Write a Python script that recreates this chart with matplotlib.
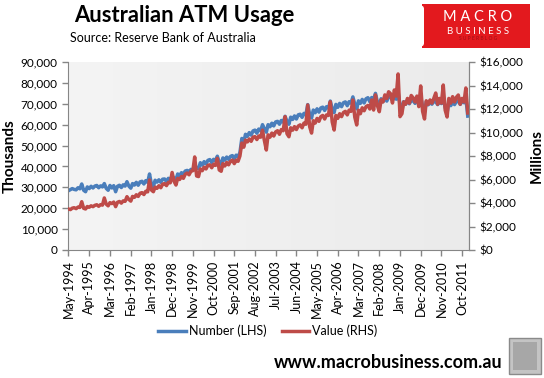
import numpy as np
import pandas as pd
import matplotlib
matplotlib.use('Agg')
import matplotlib.pyplot as plt
from matplotlib.patches import Rectangle, FancyBboxPatch
from matplotlib.colors import LinearSegmentedColormap
from matplotlib.ticker import FuncFormatter, MultipleLocator

plt.rcParams['font.family'] = ['Lato', 'DejaVu Sans']

############ Data (monthly, May-1994 .. Jan-2012) ############
# ATM withdrawals, number (thousands), in '000s of thousands
num_1994 = [28.4, 28.9, 29.4, 29.0, 28.8, 29.8, 29.3, 31.6]
num_1995 = [28.6, 27.9, 30.2, 29.4, 30.5, 29.7, 30.6, 30.9, 29.8, 30.7, 30.2, 31.8]
num_1996 = [29.5, 28.6, 30.9, 29.7, 30.8, 27.9, 30.5, 31.0, 29.9, 31.2, 30.6, 32.7]
num_1997 = [30.6, 29.6, 31.8, 31.1, 32.4, 31.0, 32.6, 32.9, 31.6, 33.2, 32.4, 36.4]
num_1998 = [31.4, 30.3, 33.4, 32.5, 33.6, 32.4, 33.9, 34.0, 32.8, 34.3, 33.8, 35.4]
num_1999 = [34.4, 33.6, 36.4, 35.6, 37.0, 36.2, 37.8, 38.1, 37.2, 38.6, 38.2, 40.6]
num_2000 = [39.4, 38.9, 41.8, 40.6, 42.3, 41.2, 42.9, 43.3, 41.9, 43.4, 42.8, 44.9]
num_2001 = [42.0, 41.0, 44.1, 43.0, 44.5, 43.4, 44.8, 45.2, 43.6, 45.4, 44.7, 46.6]
num_2002 = [53.4, 51.6, 55.4, 54.4, 56.2, 55.0, 57.0, 57.4, 55.9, 57.9, 57.0, 60.0]
num_2003 = [58.0, 56.4, 60.0, 59.0, 60.7, 59.4, 61.3, 61.6, 60.2, 62.0, 61.2, 64.0]
num_2004 = [61.6, 60.2, 63.6, 62.5, 64.2, 62.7, 64.7, 65.0, 63.5, 65.4, 64.7, 69.6]
num_2005 = [65.0, 63.2, 67.0, 65.7, 67.6, 66.0, 68.0, 68.4, 66.8, 68.6, 67.9, 71.3]
num_2006 = [67.6, 65.8, 69.7, 68.3, 70.2, 68.6, 70.5, 70.9, 69.1, 71.0, 70.3, 73.3]
num_2007 = [69.8, 67.6, 71.4, 70.2, 72.1, 70.4, 72.4, 72.9, 71.0, 73.0, 72.2, 75.0]
num_2008 = [70.8, 69.0, 72.4, 71.0, 73.0, 71.3, 73.4, 73.4, 71.6, 73.4, 72.2, 75.6]
num_2009 = [69.4, 66.8, 71.0, 69.8, 71.4, 70.0, 71.6, 71.5, 70.2, 71.6, 70.4, 73.5]
num_2010 = [68.6, 66.0, 70.9, 69.5, 70.6, 69.8, 71.2, 71.0, 69.6, 71.0, 70.1, 73.0]
num_2011 = [68.2, 65.8, 70.7, 69.1, 70.9, 69.6, 71.1, 71.3, 69.7, 71.2, 70.5, 72.8]
num_2012 = [64.1]

# ATM withdrawals, value ($ millions)
val_1994 = [3490, 3440, 3560, 3600, 3520, 3650, 3620, 4110]
val_1995 = [3550, 3490, 3700, 3640, 3760, 3690, 3800, 3850, 3720, 3860, 3820, 4430]
val_1996 = [3900, 3760, 4030, 3950, 4080, 3690, 4060, 4130, 3990, 4180, 4140, 4540]
val_1997 = [4300, 4160, 4560, 4480, 4700, 4560, 4830, 4880, 4720, 5000, 4950, 5960]
val_1998 = [5100, 4960, 5350, 5250, 5470, 5300, 5600, 5650, 5480, 5760, 5720, 6600]
val_1999 = [5850, 5530, 6100, 6000, 6250, 6100, 6450, 6550, 6400, 6700, 6750, 7920]
val_2000 = [6300, 6250, 6900, 6750, 7050, 6900, 7200, 7250, 7000, 7300, 7200, 7800]
val_2001 = [6810, 6700, 7350, 7150, 7450, 7250, 7550, 7650, 7350, 7650, 7550, 8000]
val_2002 = [9100, 8750, 9350, 9200, 9450, 9250, 9600, 9650, 9400, 9700, 9600, 10200]
val_2003 = [9300, 8510, 9800, 9600, 9950, 9700, 10050, 10150, 9850, 10250, 10150, 11350]
val_2004 = [9900, 9640, 10400, 10200, 10500, 10250, 10550, 10650, 10400, 10800, 10700, 12340]
val_2005 = [10500, 9950, 11000, 10800, 11200, 10950, 11350, 11450, 11150, 11500, 11450, 12620]
val_2006 = [10900, 10210, 11450, 11200, 11600, 11350, 11700, 11800, 11500, 11900, 11800, 12770]
val_2007 = [11300, 10640, 11900, 11600, 12100, 11850, 12200, 12300, 12000, 12770, 11910, 13200]
val_2008 = [12300, 11770, 12770, 12600, 13200, 12900, 13470, 13300, 12510, 13620, 13100, 14980]
val_2009 = [11350, 11600, 12600, 12400, 12900, 12500, 13150, 12950, 12600, 13100, 12200, 13960]
val_2010 = [11800, 11150, 12700, 12400, 12770, 12500, 12900, 13360, 12400, 12900, 12500, 14040]
val_2011 = [11900, 11320, 12900, 12500, 13050, 12600, 13000, 13190, 12400, 12900, 12600, 13790]
val_2012 = [11660]

number = np.array(num_1994 + num_1995 + num_1996 + num_1997 + num_1998 + num_1999 +
                  num_2000 + num_2001 + num_2002 + num_2003 + num_2004 + num_2005 +
                  num_2006 + num_2007 + num_2008 + num_2009 + num_2010 + num_2011 +
                  num_2012) * 1000
value = np.array(val_1994 + val_1995 + val_1996 + val_1997 + val_1998 + val_1999 +
                 val_2000 + val_2001 + val_2002 + val_2003 + val_2004 + val_2005 +
                 val_2006 + val_2007 + val_2008 + val_2009 + val_2010 + val_2011 +
                 val_2012)
months = pd.date_range('1994-05-01', periods=len(number), freq='MS')

tick_dates = months[::11]
tick_labels = [d.strftime('%b-%Y') for d in tick_dates]

BLUE = '#4a7ebb'
RED = '#be4b48'

############ Figure ############
fig = plt.figure(figsize=(5.44, 3.78), dpi=100)
W, H = 544, 378
ax = fig.add_axes([68 / W, 1 - 250 / H, 401 / W, 188 / H])

# light grey plot area, a touch lighter on the left like the excel fill
bg = LinearSegmentedColormap.from_list('bg', ['#f4f4f4', '#ebebeb'])
ax.imshow(np.linspace(0, 1, 256).reshape(1, -1), cmap=bg, aspect='auto',
          extent=[0, 1, 0, 1], transform=ax.transAxes, zorder=0)

ax.plot(months, number, color=BLUE, lw=2.5, solid_joinstyle='round', label='Number (LHS)')
ax2 = ax.twinx()
ax2.plot(months, value, color=RED, lw=2.5, solid_joinstyle='round', label='Value (RHS)')

ax.set_xlim(months[0] - pd.Timedelta(days=8), months[-1] + pd.Timedelta(days=20))
ax.set_ylim(0, 90000)
ax2.set_ylim(0, 16000)
ax.yaxis.set_major_locator(MultipleLocator(10000))
ax2.yaxis.set_major_locator(MultipleLocator(2000))
ax.yaxis.set_major_formatter(FuncFormatter(lambda v, p: '{:,.0f}'.format(v)))
ax2.yaxis.set_major_formatter(FuncFormatter(lambda v, p: '${:,.0f}'.format(v)))
ax.set_xticks(tick_dates)
ax.set_xticklabels(tick_labels, rotation=90)

for a in (ax, ax2):
    for s in a.spines.values():
        s.set_color('#868686')
    a.spines['top'].set_visible(False)
    a.tick_params(colors='#868686', labelcolor='black', labelsize=8.5, length=4, width=1)
ax.tick_params(axis='x', labelsize=9)
ax2.spines['left'].set_visible(False)
ax2.spines['bottom'].set_visible(False)

ax.set_ylabel('Thousands', fontsize=11, fontweight='bold')
ax.yaxis.set_label_coords((17 - 68) / 401, 0.5)
ax2.set_ylabel('Millions', fontsize=11, fontweight='bold')
ax2.yaxis.set_label_coords((530 - 68) / 401, 0.5)

# titles
fig.text(184 / W, 1 - 15 / H, 'Australian ATM Usage', fontsize=15.8, fontweight='bold',
         ha='center', va='center')
fig.text(163 / W, 1 - 38 / H, 'Source: Reserve Bank of Australia', fontsize=9,
         ha='center', va='center')

# legend
h1, l1 = ax.get_legend_handles_labels()
h2, l2 = ax2.get_legend_handles_labels()
fig.legend(h1 + h2, l1 + l2, loc='center', bbox_to_anchor=(268 / W, 1 - 331 / H),
           ncol=2, frameon=False, fontsize=9, handlelength=2.2, columnspacing=1.2,
           handletextpad=0.25)

# logo block
fig.patches.append(Rectangle((422 / W, 1 - 48 / H), 108 / W, 44 / H, transform=fig.transFigure,
                             facecolor='#e3191e', edgecolor='none'))
fig.patches.append(FancyBboxPatch((418 / W, 1 - 47 / H), 6 / W, 42 / H, transform=fig.transFigure,
                                  boxstyle='round,pad=0,rounding_size=0.01',
                                  facecolor='white', edgecolor='none'))
fig.text(478 / W, 1 - 17 / H, 'M A C R O', color='white', fontsize=10.5, ha='center', va='center')
fig.text(478 / W, 1 - 31 / H, 'B U S I N E S S', color='white', fontsize=7, ha='center', va='center')
fig.text(478 / W, 1 - 39 / H, 'S U P E R B L O G', color='#9e1015', fontsize=3.5,
         ha='center', va='center')

# footer
fig.text(502 / W, 1 - 362 / H, 'www.macrobusiness.com.au', fontsize=13, fontweight='bold',
         ha='right', va='center')
fig.patches.append(Rectangle((509 / W, 1 - 374 / H), 32 / W, 36 / H, transform=fig.transFigure,
                             facecolor='#c4c4c4', edgecolor='#8a8a8a', lw=1))
fig.patches.append(Rectangle((513 / W, 1 - 370 / H), 24 / W, 28 / H, transform=fig.transFigure,
                             facecolor='#8c8c8c', edgecolor='none', alpha=0.5))

fig.savefig('out.png', dpi=100)
